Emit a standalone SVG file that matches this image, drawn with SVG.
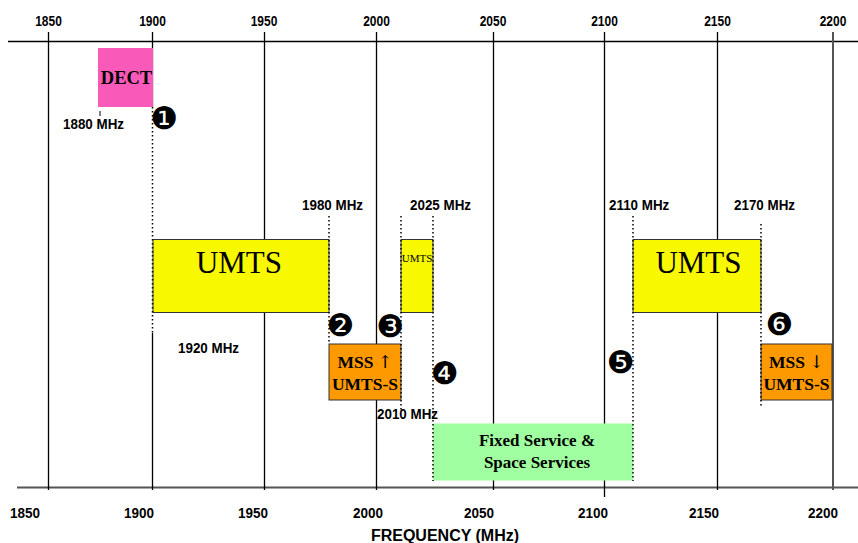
<svg xmlns="http://www.w3.org/2000/svg" width="858" height="543" viewBox="0 0 858 543">
<style>
.ax{font-family:"Liberation Sans",Arial,sans-serif;font-weight:bold;font-size:12px;text-anchor:middle;fill:#000}
.axb{font-family:"Liberation Sans",Arial,sans-serif;font-weight:bold;font-size:13.5px;text-anchor:middle;fill:#000}
.mhz{font-family:"Liberation Sans",Arial,sans-serif;font-weight:bold;font-size:13.4px;fill:#000}
.grid{stroke:#000;stroke-width:1.3;fill:none}
.dot{stroke:#000;stroke-width:1.5;stroke-dasharray:1.5 2.5;fill:none}
.tm{font-family:"Liberation Serif","Times New Roman",serif;fill:#000;text-anchor:middle}
.tb{font-family:"Liberation Serif","Times New Roman",serif;font-weight:bold;fill:#000;text-anchor:middle}
.arr{font-family:"DejaVu Serif",serif;font-weight:normal}
.num{font-family:"DejaVu Sans",sans-serif;font-size:31px;text-anchor:middle;fill:#000}
.box{stroke:#333;stroke-width:1}
</style>
<rect width="858" height="543" fill="#fff"/>
<g id="axes">
<line x1="8" y1="41.5" x2="858" y2="41.5" stroke="#000" stroke-width="1.5"/>
<line x1="17" y1="487.5" x2="858" y2="487.5" stroke="#555" stroke-width="2.2"/>
<text class="ax" transform="translate(48.5 25.5) scale(1 1.2)">1850</text>
<text class="ax" transform="translate(152.5 25.5) scale(1 1.2)">1900</text>
<text class="ax" transform="translate(264 25.5) scale(1 1.2)">1950</text>
<text class="ax" transform="translate(376.5 25.5) scale(1 1.2)">2000</text>
<text class="ax" transform="translate(493 25.5) scale(1 1.2)">2050</text>
<text class="ax" transform="translate(604.5 25.5) scale(1 1.2)">2100</text>
<text class="ax" transform="translate(717.5 25.5) scale(1 1.2)">2150</text>
<text class="ax" transform="translate(833 25.5) scale(1 1.2)">2200</text>
<text class="axb" transform="translate(25 518) scale(1 1.1)">1850</text>
<text class="axb" transform="translate(139 518) scale(1 1.1)">1900</text>
<text class="axb" transform="translate(253 518) scale(1 1.1)">1950</text>
<text class="axb" transform="translate(368 518) scale(1 1.1)">2000</text>
<text class="axb" transform="translate(479 518) scale(1 1.1)">2050</text>
<text class="axb" transform="translate(593 518) scale(1 1.1)">2100</text>
<text class="axb" transform="translate(704 518) scale(1 1.1)">2150</text>
<text class="axb" transform="translate(823 518) scale(1 1.1)">2200</text>
<text class="axb" x="445" y="541" style="font-size:16px">FREQUENCY (MHz)</text>
</g>
<g id="grid">
<line class="grid" x1="48.5" y1="32" x2="48.5" y2="490"/>
<line class="grid" x1="152.5" y1="32" x2="152.5" y2="107"/>
<line class="grid" x1="152.5" y1="333" x2="152.5" y2="490"/>
<line class="grid" x1="264.5" y1="32" x2="264.5" y2="490"/>
<line class="grid" x1="376.5" y1="32" x2="376.5" y2="490"/>
<line class="grid" x1="493.5" y1="32" x2="493.5" y2="490"/>
<line class="grid" x1="604.5" y1="32" x2="604.5" y2="497"/>
<line class="grid" x1="717.5" y1="32" x2="717.5" y2="490"/>
<line x1="833" y1="32" x2="833" y2="490" stroke="#555" stroke-width="2"/>
</g>
<g id="dect">
<rect x="98" y="48" width="55" height="59" fill="#F95AB9"/>
<text class="tb" x="126.5" y="84" style="font-size:18.5px">DECT</text>
<line x1="100" y1="111" x2="100" y2="116" stroke="#000" stroke-width="1"/>
<text class="mhz" transform="translate(63 129) scale(1 1.15)">1880 MHz</text>
</g>
<g id="umts1">
<rect class="box" x="153" y="239.5" width="176" height="73" fill="#F8F800"/>
<text class="tm" x="239" y="273" style="font-size:31px">UMTS</text>
</g>
<g id="umts-small">
<rect class="box" x="401" y="239.5" width="32" height="73" fill="#F8F800"/>
<text class="tm" x="417" y="262" style="font-size:11px">UMTS</text>
</g>
<g id="umts2">
<rect class="box" x="633" y="239.5" width="128" height="73" fill="#F8F800"/>
<text class="tm" x="698.5" y="273" style="font-size:31px">UMTS</text>
</g>
<g id="mss-up">
<rect class="box" x="329" y="344" width="72" height="56" fill="#FF9900"/>
<text class="tb" x="365" y="368" style="font-size:17.5px">MSS <tspan class="arr">↑</tspan></text>
<text class="tb" x="365" y="390" style="font-size:17.5px">UMTS-S</text>
</g>
<g id="mss-down">
<rect class="box" x="761" y="344" width="71" height="56" fill="#FF9900"/>
<text class="tb" x="796.5" y="368" style="font-size:17.5px">MSS <tspan class="arr">↓</tspan></text>
<text class="tb" x="796.5" y="390" style="font-size:17.5px">UMTS-S</text>
</g>
<g id="fixed">
<rect x="433" y="423.5" width="200" height="57" fill="#A0FFA0"/>
<text class="tb" x="537" y="446" style="font-size:17px">Fixed Service &amp;</text>
<text class="tb" x="537" y="468" style="font-size:17px">Space Services</text>
</g>
<g id="connectors">
<line class="dot" x1="152.5" y1="107" x2="152.5" y2="333"/>
<line class="dot" x1="329" y1="216" x2="329" y2="344"/>
<line class="dot" x1="401" y1="216" x2="401" y2="410"/>
<line class="dot" x1="433" y1="216" x2="433" y2="481"/>
<line class="dot" x1="633" y1="216" x2="633" y2="481"/>
<line class="dot" x1="761" y1="224" x2="761" y2="407"/>
</g>
<g id="labels">
<text class="mhz" transform="translate(302 210) scale(1 1.15)">1980 MHz</text>
<text class="mhz" transform="translate(410 210) scale(1 1.15)">2025 MHz</text>
<text class="mhz" transform="translate(609 210) scale(1 1.15)">2110 MHz</text>
<text class="mhz" transform="translate(734 210) scale(1 1.15)">2170 MHz</text>
<text class="mhz" transform="translate(178 353) scale(1 1.15)">1920 MHz</text>
<text class="mhz" transform="translate(377 419) scale(1 1.15)">2010 MHz</text>
</g>
<g id="markers">
<text class="num" x="164.5" y="128.8">❶</text>
<text class="num" x="340.5" y="336.3">❷</text>
<text class="num" x="390.5" y="337.3">❸</text>
<text class="num" x="445" y="384.3">❹</text>
<text class="num" x="620.5" y="372.8">❺</text>
<text class="num" x="779.5" y="335.3">❻</text>
</g>
</svg>
